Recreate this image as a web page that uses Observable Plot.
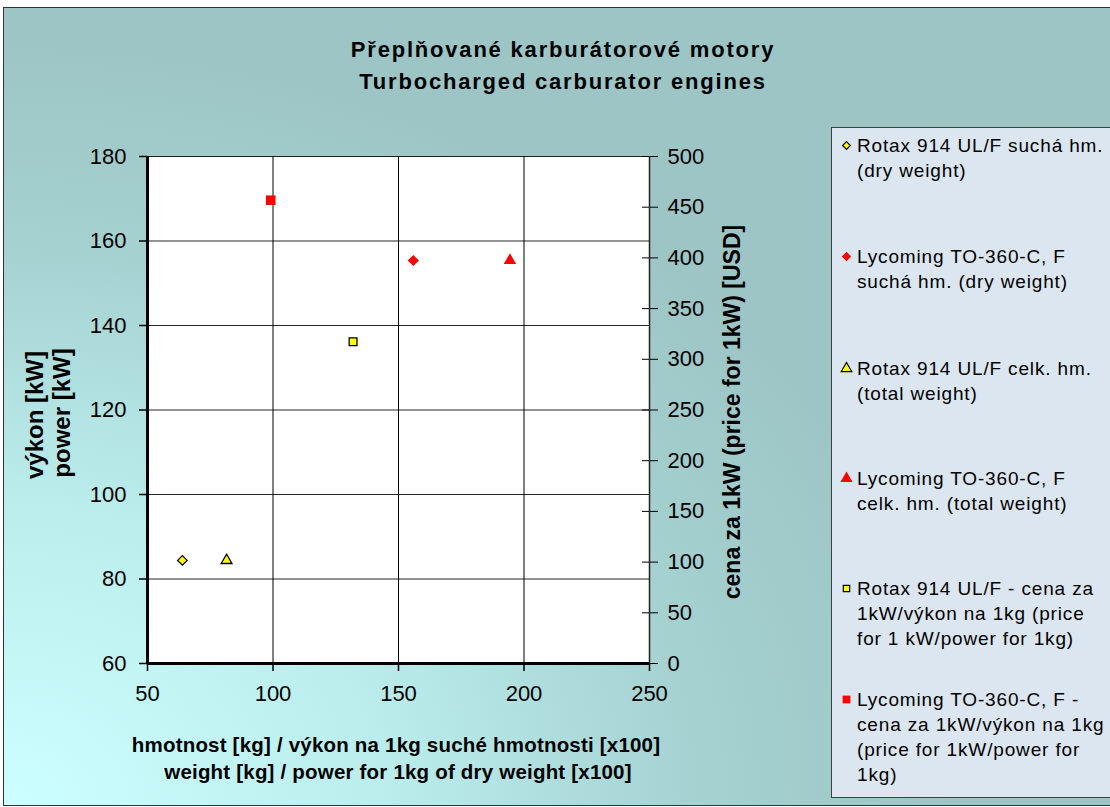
<!DOCTYPE html>
<html>
<head>
<meta charset="utf-8">
<script src="https://cdn.jsdelivr.net/npm/d3@7"></script>
<script src="https://cdn.jsdelivr.net/npm/@observablehq/plot@0.6"></script>
<style>
  html, body { margin: 0; padding: 0; background: #fff; }
  #chart {
    position: relative; width: 1110px; height: 807px; overflow: hidden;
    font-family: "Liberation Sans", Arial, sans-serif; color: #000;
  }
  #bg {
    position: absolute; left: 3px; top: 7px; width: 1120px; height: 797px;
    border: 1.5px solid #333;
    background: radial-gradient(ellipse 950px 760px at 0% 100%, #ccffff 0%, #bbeded 40%, #a6d2d2 72%, #9dc5c5 100%);
  }
  .abs { position: absolute; white-space: nowrap; }
  .title { font-weight: bold; font-size: 22px; letter-spacing: 1.8px; transform: translate(-50%, -50%); }
  .xlab { font-weight: bold; font-size: 20.5px; letter-spacing: 0.2px; transform: translate(-50%, -50%); }
  .rotl { font-weight: bold; font-size: 24px; transform: translate(-50%, -50%) rotate(-90deg); }
  .rotr { font-weight: bold; font-size: 23px; transform: translate(-50%, -50%) rotate(-90deg); }
  #legend {
    position: absolute; left: 831px; top: 127px; width: 300px; height: 669px;
    background: #dce6f0; border: 1.5px solid #404040;
  }
  .item { position: absolute; left: 25px; font-size: 19px; letter-spacing: 0.85px; line-height: 25px; }
  svg.plot { position: absolute; left: 0; top: 0; }
</style>
</head>
<body>
<div id="chart">
  <div id="bg"></div>
</div>
<script>
// ---------- data ----------
const seriesNames = [
  "Rotax 914 UL/F suchá hm. (dry weight)",
  "Lycoming TO-360-C, F suchá hm. (dry weight)",
  "Rotax 914 UL/F celk. hm. (total weight)",
  "Lycoming TO-360-C, F celk. hm. (total weight)",
  "Rotax 914 UL/F - cena za 1kW/výkon na 1kg (price for 1 kW/power for 1kg)",
  "Lycoming TO-360-C, F - cena za 1kW/výkon na 1kg (price for 1kW/power for 1kg)"
];
const legendLines = [
  ["Rotax 914 UL/F suchá hm.", "(dry weight)"],
  ["Lycoming TO-360-C, F", "suchá hm. (dry weight)"],
  ["Rotax 914 UL/F celk. hm.", "(total weight)"],
  ["Lycoming TO-360-C, F", "celk. hm. (total weight)"],
  ["Rotax 914 UL/F - cena za", "1kW/výkon na 1kg (price", "for 1 kW/power for 1kg)"],
  ["Lycoming TO-360-C, F -", "cena za 1kW/výkon na 1kg", "(price for 1kW/power for", "1kg)"]
];
const xValues = [63.9, 155.9, 81.5, 194.4, 131.9, 99.1];      // weight / power per kg [x100]
const yValues = [84.4, 155.4, 84.4, 155.4, 317.3, 456.9];     // power [kW] or price [USD]
const yAxisOf = ["left", "left", "left", "left", "right", "right"];

const xTicks = [50, 100, 150, 200, 250];
const leftTicks = [60, 80, 100, 120, 140, 160, 180];
const rightTicks = [0, 50, 100, 150, 200, 250, 300, 350, 400, 450, 500];

const titleLines = ["Přeplňované karburátorové motory", "Turbocharged carburator engines"];
const xLabelLines = ["hmotnost [kg] / výkon na 1kg suché hmotnosti [x100]", "weight [kg] / power for 1kg of dry weight [x100]"];
const leftLabelLines = ["výkon [kW]", "power [kW]"];
const rightLabel = "cena za 1kW (price for 1kW) [USD]";

// ---------- styles ----------
const seriesStyle = [
  {symbol: "diamond2", fill: "#ffff00", stroke: "#000", r: 4.3, lr: 3.5},
  {symbol: "diamond2", fill: "#ff0000", stroke: "none", r: 5.0, lr: 4.2},
  {symbol: "triangle", fill: "#ffff00", stroke: "#000", r: 4.0, lr: 3.9},
  {symbol: "triangle", fill: "#ff0000", stroke: "none", r: 4.6, lr: 4.5},
  {symbol: "square", fill: "#ffff00", stroke: "#000", r: 4.4, lr: 3.6},
  {symbol: "square", fill: "#ff0000", stroke: "none", r: 5.4, lr: 4.4}
];

// right axis (0..500) mapped onto left axis domain (60..180)
const leftDomain = [60, 180], rightDomain = [0, 500];
const toLeft = v => leftDomain[0] + (v - rightDomain[0]) * (leftDomain[1] - leftDomain[0]) / (rightDomain[1] - rightDomain[0]);
const fromLeft = y => Math.round(rightDomain[0] + (y - leftDomain[0]) * (rightDomain[1] - rightDomain[0]) / (leftDomain[1] - leftDomain[0]));

const points = xValues.map((x, i) => ({
  name: seriesNames[i], i, x,
  y: yAxisOf[i] === "left" ? yValues[i] : toLeft(yValues[i])
}));

const dotMarks = seriesStyle.map((s, i) =>
  Plot.dot(points.filter(d => d.i === i), {
    x: "x", y: "y", symbol: () => s.symbol, r: s.r,
    fill: s.fill, stroke: s.stroke, strokeWidth: 1.3
  })
);

const plot = Plot.plot({
  width: 1110, height: 807,
  marginLeft: 147, marginRight: 461, marginTop: 156, marginBottom: 144,
  style: {background: "transparent", fontFamily: "'Liberation Sans', Arial, sans-serif", fontSize: "22px", color: "#000"},
  x: {domain: [50, 250]},
  y: {domain: leftDomain},
  symbol: {type: "identity"},
  marks: [
    Plot.frame({fill: "white", stroke: null}),
    Plot.gridX({ticks: xTicks, stroke: "#000", strokeOpacity: 1, strokeWidth: 1}),
    Plot.gridY({ticks: leftTicks, stroke: "#000", strokeOpacity: 0.85, strokeWidth: 1}),
    Plot.axisX({ticks: xTicks, tickSize: 8, tickPadding: 14, strokeWidth: 1.5, label: null, tickFormat: d => d}),
    Plot.axisY({ticks: leftTicks, tickSize: 8, tickPadding: 13, strokeWidth: 1.5, label: null, tickFormat: d => d}),
    Plot.axisY({anchor: "right", ticks: rightTicks.map(toLeft), tickSize: 8, tickPadding: 10, strokeWidth: 1, label: null, tickFormat: d => fromLeft(d)}),
    Plot.axisY({anchor: "right", ticks: rightTicks.map(toLeft), tickSize: -8, strokeWidth: 1, label: null, tickFormat: () => ""}),
    Plot.ruleX([250], {stroke: "#222", strokeWidth: 1.5}),
    Plot.ruleX([50], {stroke: "#000", strokeWidth: 3}),
    Plot.ruleY([60], {stroke: "#000", strokeWidth: 3}),
    ...dotMarks
  ]
});
plot.classList.add("plot");
const chart = document.getElementById("chart");
chart.appendChild(plot);

function addDiv(cls, text, left, top) {
  const d = document.createElement("div");
  d.className = "abs " + cls;
  d.textContent = text;
  d.style.left = left + "px";
  d.style.top = top + "px";
  chart.appendChild(d);
  return d;
}
addDiv("title", titleLines[0], 563, 50);
addDiv("title", titleLines[1], 563, 82);
addDiv("xlab", xLabelLines[0], 396, 745);
addDiv("xlab", xLabelLines[1], 398, 772);
addDiv("rotl", leftLabelLines[0], 35, 415);
addDiv("rotl", leftLabelLines[1], 62, 413);
addDiv("rotr", rightLabel, 732, 412);

// legend
const legend = document.createElement("div");
legend.id = "legend";
chart.appendChild(legend);
const itemTops = [5, 116, 228, 338, 448, 559];
legendLines.forEach((lines, i) => {
  const it = document.createElement("div");
  it.className = "item";
  it.style.top = itemTops[i] + "px";
  it.innerHTML = lines.map(l => `<div style="white-space:nowrap">${l}</div>`).join("");
  legend.appendChild(it);
  const s = seriesStyle[i];
  const sw = Plot.plot({
    width: 14, height: 14, margin: 0,
    x: {domain: [0, 1], axis: null}, y: {domain: [0, 1], axis: null},
    style: {background: "transparent"},
    marks: [Plot.dot([0], {x: () => 0.5, y: () => 0.5, symbol: () => s.symbol, r: s.lr, fill: s.fill, stroke: s.stroke, strokeWidth: 1.2})]
  });
  sw.style.position = "absolute";
  sw.style.left = "7px";
  sw.style.top = (itemTops[i] + 5) + "px";
  legend.appendChild(sw);
});
</script>
</body>
</html>
